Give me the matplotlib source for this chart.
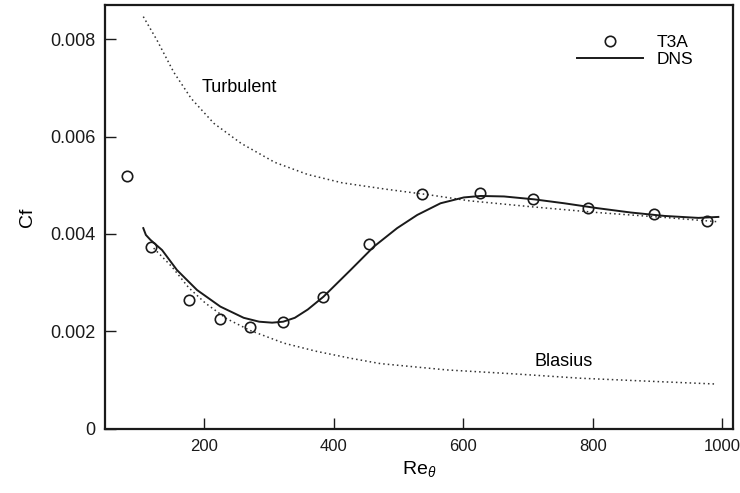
"""Skin friction Cf vs Re_theta: T3A data, DNS, laminar/turbulent reference curves."""

import matplotlib

matplotlib.use("Agg")
import matplotlib.pyplot as plt
from matplotlib.ticker import FuncFormatter


# T3A experiment (open circles)
t3a_re = [81, 118, 176, 224, 271, 322, 383, 455, 537, 626, 708, 793, 894, 976]
t3a_cf = [5.19e-3, 3.73e-3, 2.64e-3, 2.26e-3, 2.09e-3, 2.19e-3, 2.71e-3,
          3.80e-3, 4.83e-3, 4.85e-3, 4.71e-3, 4.53e-3, 4.40e-3, 4.27e-3]

# DNS (solid line)
dns_re = [106, 110, 117, 135, 158, 189, 225, 261, 285, 305, 322, 340, 360, 384,
          426, 462, 498, 529, 565, 601, 627, 663, 710, 756, 807, 859, 911, 963, 994]
dns_cf = [4.12e-3, 3.98e-3, 3.88e-3, 3.67e-3, 3.26e-3, 2.85e-3, 2.51e-3, 2.28e-3,
          2.20e-3, 2.18e-3, 2.20e-3, 2.28e-3, 2.45e-3, 2.71e-3, 3.26e-3, 3.74e-3,
          4.12e-3, 4.39e-3, 4.63e-3, 4.75e-3, 4.78e-3, 4.77e-3, 4.71e-3, 4.63e-3,
          4.53e-3, 4.44e-3, 4.37e-3, 4.33e-3, 4.35e-3]

# turbulent correlation (dotted)
turb_re = [106, 127, 153, 180, 215, 257, 309, 360, 413, 480, 549, 610, 704, 807, 910, 994]
turb_cf = [8.46e-3, 7.98e-3, 7.32e-3, 6.78e-3, 6.27e-3, 5.86e-3, 5.47e-3, 5.22e-3,
           5.05e-3, 4.92e-3, 4.80e-3, 4.68e-3, 4.56e-3, 4.44e-3, 4.34e-3, 4.25e-3]

# Blasius laminar (dotted)
blas_re = [122, 150, 176, 202, 235, 271, 323, 374, 426, 472, 575, 678, 781, 884, 992]
blas_cf = [3.71e-3, 3.33e-3, 2.90e-3, 2.58e-3, 2.26e-3, 2.02e-3, 1.76e-3, 1.59e-3,
           1.45e-3, 1.34e-3, 1.21e-3, 1.13e-3, 1.04e-3, 0.98e-3, 0.92e-3]

x_ticks = [200, 400, 600, 800, 1000]
y_ticks = [0, 0.002, 0.004, 0.006, 0.008]


def cf_label(v, _pos):
    return "0" if v == 0 else f"{v:.3f}"


def main() -> None:
    plt.rcParams["font.family"] = ["Liberation Sans", "DejaVu Sans"]
    plt.rcParams["mathtext.fontset"] = "custom"
    plt.rcParams["mathtext.it"] = "Liberation Sans:italic"
    plt.rcParams["mathtext.rm"] = "Liberation Sans"

    fig = plt.figure(figsize=(7.4, 4.93), dpi=100)
    ax = fig.add_axes([0.142, 0.130, 0.848, 0.860])

    dot = dict(color="#333333", lw=1.1, linestyle=(0, (1, 2)))
    ax.plot(turb_re, turb_cf, **dot)
    ax.plot(blas_re, blas_cf, **dot)
    ax.plot(dns_re, dns_cf, color="#1a1a1a", lw=1.4, label="DNS")
    ax.plot(t3a_re, t3a_cf, "o", mfc="none", mec="#1a1a1a", mew=1.2, ms=7.5,
            linestyle="none", label="T3A")

    ax.text(254, 0.0070, "Turbulent", fontsize=13, ha="center", va="center")
    ax.text(755, 0.00138, "Blasius", fontsize=13, ha="center", va="center")

    ax.set_xlim(47, 1016)
    ax.set_ylim(0, 0.0087)
    ax.set_xticks(x_ticks)
    ax.set_yticks(y_ticks)
    ax.yaxis.set_major_formatter(FuncFormatter(cf_label))
    ax.tick_params(direction="in", length=8, width=1.0, pad=7, colors="#1a1a1a")
    ax.tick_params(axis="y", labelsize=13)
    ax.tick_params(axis="x", labelsize=12)
    for s in ax.spines.values():
        s.set_linewidth(1.6)
        s.set_color("#1a1a1a")

    ax.set_xlabel(r"Re$_\theta$", fontsize=14, labelpad=4)
    ax.set_ylabel("Cf", fontsize=14, labelpad=10)

    handles, labels = ax.get_legend_handles_labels()
    ax.legend(handles[::-1], labels[::-1], loc="upper right", frameon=False,
              fontsize=12.5, handlelength=3.8, borderaxespad=0.6,
              bbox_to_anchor=(0.965, 0.97), labelspacing=0.1)

    fig.savefig("out.png", dpi=100)
    plt.close(fig)


if __name__ == "__main__":
    main()
